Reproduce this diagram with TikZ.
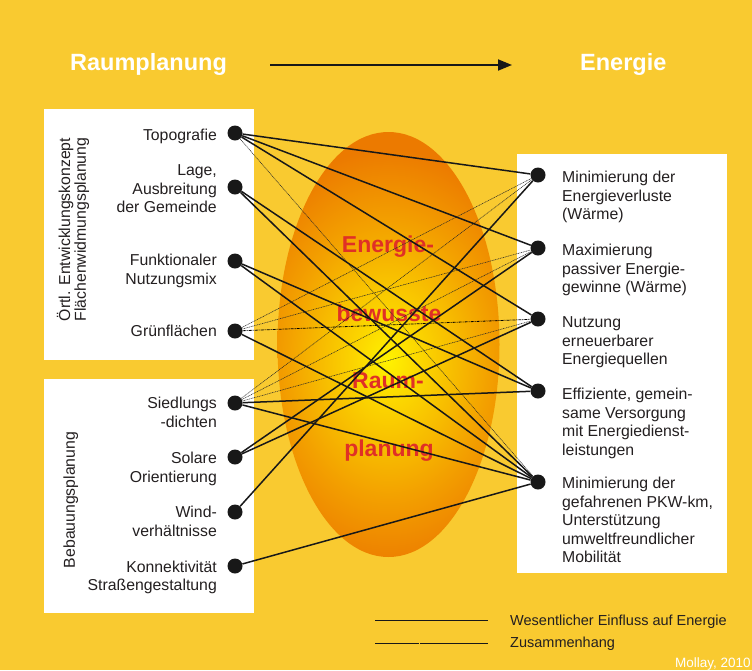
\documentclass[tikz,border=0pt]{standalone}
\usepackage{fontspec}
\setmainfont{Liberation Sans}
\usetikzlibrary{arrows.meta}
\definecolor{bgyellow}{RGB}{249,202,48}
\definecolor{txtdark}{RGB}{35,31,32}
\definecolor{dotblack}{RGB}{24,24,24}
\definecolor{ellred}{RGB}{224,48,38}
\definecolor{ellorange}{RGB}{236,122,0}
\definecolor{ellmidC}{RGB}{243,160,0}
\definecolor{ellmidB}{RGB}{247,187,0}
\definecolor{ellmidA}{RGB}{252,218,0}
\definecolor{ellyellow}{RGB}{255,242,0}
\pgfdeclareradialshading{eggshade}{\pgfpoint{0bp}{0bp}}{color(0bp)=(ellyellow); color(4bp)=(ellmidA); color(10bp)=(ellmidB); color(15bp)=(ellmidC); color(23bp)=(ellorange); color(50bp)=(ellorange)}
\begin{document}
\begin{tikzpicture}[x=1pt,y=-1pt,
  dotnode/.style={circle,fill=dotblack,draw=none,minimum size=15pt,inner sep=0pt},
  lbl/.style={font=\fontsize{15.8}{18.5}\selectfont,text=txtdark,inner sep=0pt},
  strong/.style={draw=dotblack,line width=1.5pt},
  weak/.style={draw=black!85,line width=0.55pt,dash pattern=on 1pt off 0.7pt},
  weakdd/.style={draw=black,line width=0.8pt,dash pattern=on 3pt off 1pt on 1pt off 1pt},
  head/.style={font=\fontsize{23.5}{28}\selectfont\bfseries,text=white,inner sep=0pt},
  egg/.style={font=\fontsize{23}{28}\selectfont\bfseries,text=ellred,inner sep=0pt},
  legtxt/.style={font=\fontsize{14.5}{17}\selectfont,text=txtdark,inner sep=0pt,anchor=base west},
]
\useasboundingbox (0,0) rectangle (752,670);
\fill[bgyellow] (0,0) rectangle (752,670);
% white panels
\fill[white] (44,109) rectangle (254,360);
\fill[white] (44,379) rectangle (254,613);
\fill[white] (517,154) rectangle (727,573);
% egg
\begin{scope}
\clip (388.5,344.5) ellipse [x radius=111pt, y radius=212.5pt];
\shade[shading=eggshade] (218,130) rectangle (558,590);
\end{scope}
\node[egg] (e1) at (388,246.7) {Energie-};
\node[egg] (e2) at (389,313) {bewusste};
\node[egg] (e3) at (388,381) {Raum-};
\node[egg] (e4) at (389,451) {planung};
% header
\node[head,anchor=base west] (hl) at (70,70.5) {Raumplanung};
\node[head,anchor=base west] (hr) at (580,70.5) {Energie};
\coordinate (as) at (270,65);
\coordinate (ae) at (512,65);
\draw[-{Triangle[length=14pt,width=11pt]},line width=1.8pt,draw=dotblack,fill=dotblack] (as) -- (ae);
% rotated group labels
\node[lbl,rotate=90,align=center,font=\fontsize{15.8}{14.5}\selectfont] (g1) at (73,229.5) {Örtl. Entwicklungskonzept\\Flächenwidmungsplanung};
\node[lbl,rotate=90] (g2) at (70.8,500) {Bebauungsplanung};
% left labels
\node[lbl,anchor=base east] (t1) at (217,140.5) {Topografie};
\node[lbl,anchor=base east] (t2) at (217,175.5) {\begin{tabular}[t]{@{}r@{}}Lage,\\Ausbreitung\\der Gemeinde\end{tabular}};
\node[lbl,anchor=base east] (t3) at (217,265.5) {\begin{tabular}[t]{@{}r@{}}Funktionaler\\Nutzungsmix\end{tabular}};
\node[lbl,anchor=base east] (t4) at (217,336.5) {Grünflächen};
\node[lbl,anchor=base east] (t5) at (217,408.5) {\begin{tabular}[t]{@{}r@{}}Siedlungs\\-dichten\end{tabular}};
\node[lbl,anchor=base east] (t6) at (217,463.5) {\begin{tabular}[t]{@{}r@{}}Solare\\Orientierung\end{tabular}};
\node[lbl,anchor=base east] (t7) at (217,517.5) {\begin{tabular}[t]{@{}r@{}}Wind-\\verhältnisse\end{tabular}};
\node[lbl,anchor=base east] (t8) at (217,572) {\begin{tabular}[t]{@{}r@{}}Konnektivität\\Straßengestaltung\end{tabular}};
% right labels
\node[lbl,anchor=base west] (s1) at (562,182.5) {\begin{tabular}[t]{@{}l@{}}Minimierung der\\Energieverluste\\(Wärme)\end{tabular}};
\node[lbl,anchor=base west] (s2) at (562,255.5) {\begin{tabular}[t]{@{}l@{}}Maximierung\\passiver Energie-\\gewinne (Wärme)\end{tabular}};
\node[lbl,anchor=base west] (s3) at (562,327.5) {\begin{tabular}[t]{@{}l@{}}Nutzung\\erneuerbarer\\Energiequellen\end{tabular}};
\node[lbl,anchor=base west] (s4) at (562,399.5) {\begin{tabular}[t]{@{}l@{}}Effiziente, gemein-\\same Versorgung\\mit Energiedienst-\\leistungen\end{tabular}};
\node[lbl,anchor=base west] (s5) at (562,488.5) {\begin{tabular}[t]{@{}l@{}}Minimierung der\\gefahrenen PKW-km,\\Unterstützung\\umweltfreundlicher\\Mobilität\end{tabular}};
% dots
\node[dotnode] (l1) at (235,133) {};
\node[dotnode] (l2) at (235,187) {};
\node[dotnode] (l3) at (235,261) {};
\node[dotnode] (l4) at (235,331) {};
\node[dotnode] (l5) at (235,403) {};
\node[dotnode] (l6) at (235,457) {};
\node[dotnode] (l7) at (235,512) {};
\node[dotnode] (l8) at (235,566) {};
\node[dotnode] (r1) at (538,175) {};
\node[dotnode] (r2) at (538,248) {};
\node[dotnode] (r3) at (538,319) {};
\node[dotnode] (r4) at (538,391) {};
\node[dotnode] (r5) at (538,482) {};
% weak links
\draw[weak] (l1) -- (r5);
\draw[weak] (l4) -- (r1);
\draw[weak] (l4) -- (r2);
\draw[weakdd] (l4) -- (r3);
\draw[weak] (l5) -- (r1);
\draw[weak] (l5) -- (r2);
\draw[weak] (l5) -- (r3);
% strong links
\draw[strong] (l1) -- (r1);
\draw[strong] (l1) -- (r2);
\draw[strong] (l1) -- (r3);
\draw[strong] (l2) -- (r4);
\draw[strong] (l2) -- (r5);
\draw[strong] (l3) -- (r4);
\draw[strong] (l3) -- (r5);
\draw[strong] (l4) -- (r5);
\draw[strong] (l5) -- (r4);
\draw[strong] (l5) -- (r5);
\draw[strong] (l6) -- (r2);
\draw[strong] (l6) -- (r3);
\draw[strong] (l7) -- (r1);
\draw[strong] (l8) -- (r5);
% legend
\coordinate (la1) at (375,620);
\coordinate (la2) at (488,620);
\draw[line width=1pt,draw=dotblack] (la1) -- (la2);
\coordinate (lb1) at (375,643.3);
\coordinate (lb2) at (419,643.3);
\coordinate (lb3) at (420.3,643.3);
\coordinate (lb4) at (488,643.3);
\draw[line width=1pt,draw=dotblack] (lb1) -- (lb2);
\draw[line width=1pt,draw=dotblack] (lb3) -- (lb4);
\node[legtxt] (lt1) at (510,625.5) {Wesentlicher Einfluss auf Energie};
\node[legtxt] (lt2) at (510,647.3) {Zusammenhang};
\node[anchor=base west,inner sep=0pt,font=\fontsize{13.5}{16}\selectfont,text=white] (cr) at (675,667) {Mollay, 2010};
\end{tikzpicture}
\end{document}
